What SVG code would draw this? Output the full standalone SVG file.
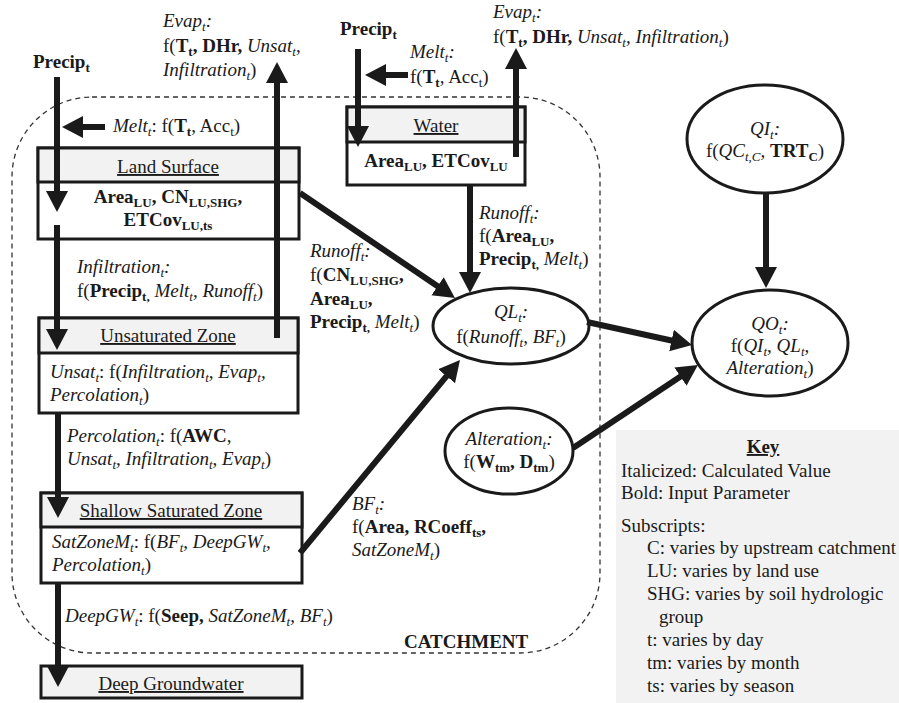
<svg xmlns="http://www.w3.org/2000/svg" width="899" height="703" viewBox="0 0 899 703">
<style>
.t{font-family:"Liberation Serif","Times New Roman",serif;font-size:19px;fill:#1a1a1a}
.c{text-anchor:middle}
.i{font-style:italic}
.b{font-weight:bold}
.u{text-decoration:underline}
.s{font-size:13px;baseline-shift:-4px}
.box{fill:#fff;stroke:#1a1a1a;stroke-width:3}
.hdr{fill:#f2f2f2;stroke:#1a1a1a;stroke-width:3}
.ell{fill:#fff;stroke:#1a1a1a;stroke-width:3}
.arr{stroke:#1a1a1a;stroke-width:6;fill:none;marker-end:url(#ah)}
</style>
<defs>
<marker id="ah" markerUnits="userSpaceOnUse" markerWidth="22" markerHeight="24" refX="1" refY="12" orient="auto" viewBox="0 0 22 24">
<path d="M0,1 L21,12 L0,23 z" fill="#1a1a1a"/>
</marker>
</defs>
<rect width="899" height="703" fill="#fff"/>

<g id="catchment">
<rect x="12" y="97" width="588" height="556" rx="80" ry="80" fill="none" stroke="#333" stroke-width="1.3" stroke-dasharray="5,4"/>
<text class="t b" x="404" y="648">CATCHMENT</text>
</g>

<g id="key">
<rect x="616" y="430" width="283" height="273" fill="#f2f2f2"/>
<text class="t b u c" x="763" y="453">Key</text>
<text class="t" x="621" y="477">Italicized: Calculated Value</text>
<text class="t" x="621" y="499">Bold: Input Parameter</text>
<text class="t" x="621" y="532">Subscripts:</text>
<text class="t" x="647" y="554">C: varies by upstream catchment</text>
<text class="t" x="647" y="577">LU: varies by land use</text>
<text class="t" x="647" y="600">SHG: varies by soil hydrologic</text>
<text class="t" x="659" y="623">group</text>
<text class="t" x="647" y="646">t: varies by day</text>
<text class="t" x="647" y="669">tm: varies by month</text>
<text class="t" x="647" y="692">ts: varies by season</text>
</g>

<g id="land-surface">
<rect class="box" x="38" y="148" width="261" height="91"/>
<rect class="hdr" x="38" y="148" width="261" height="34"/>
<text class="t c u" x="168" y="173">Land Surface</text>
<text class="t c b" x="168" y="203">Area<tspan class="s">LU</tspan>, CN<tspan class="s">LU,SHG</tspan>,</text>
<text class="t c b" x="168" y="226">ETCov<tspan class="s">LU,ts</tspan></text>
</g>

<g id="unsaturated-zone">
<rect class="box" x="39" y="318" width="259" height="95"/>
<rect class="hdr" x="39" y="318" width="259" height="35"/>
<text class="t c u" x="168" y="342">Unsaturated Zone</text>
<text class="t" x="50" y="378"><tspan class="i">Unsat<tspan class="s">t</tspan></tspan>: f(<tspan class="i">Infiltration<tspan class="s">t</tspan>, Evap<tspan class="s">t</tspan>,</tspan></text>
<text class="t i" x="50" y="401">Percolation<tspan class="s">t</tspan><tspan style="font-style:normal">)</tspan></text>
</g>

<g id="shallow-saturated-zone">
<rect class="box" x="41" y="493" width="261" height="90"/>
<rect class="hdr" x="41" y="493" width="261" height="34"/>
<text class="t c u" x="171" y="517">Shallow Saturated Zone</text>
<text class="t" x="52" y="548"><tspan class="i">SatZoneM<tspan class="s">t</tspan></tspan>: f(<tspan class="i">BF<tspan class="s">t</tspan>, DeepGW<tspan class="s">t</tspan>,</tspan></text>
<text class="t i" x="52" y="571">Percolation<tspan class="s">t</tspan><tspan style="font-style:normal">)</tspan></text>
</g>

<g id="deep-groundwater">
<rect class="hdr" x="41" y="666" width="261" height="32"/>
<text class="t c u" x="171" y="690">Deep Groundwater</text>
</g>

<g id="water">
<rect class="box" x="347" y="107" width="178" height="78"/>
<rect class="hdr" x="347" y="107" width="178" height="35"/>
<text class="t c u" x="436" y="132">Water</text>
<text class="t c b" x="436" y="167">Area<tspan class="s">LU</tspan>, ETCov<tspan class="s">LU</tspan></text>
</g>

<g id="ql">
<ellipse class="ell" cx="511" cy="326" rx="78" ry="38"/>
<text class="t c i" x="511" y="318">QL<tspan class="s">t</tspan>:</text>
<text class="t c" x="511" y="343">f(<tspan class="i">Runoff<tspan class="s">t</tspan>, BF<tspan class="s">t</tspan></tspan>)</text>
</g>

<g id="alteration">
<ellipse class="ell" cx="509" cy="451" rx="64" ry="43"/>
<text class="t c i" x="509" y="445">Alteration<tspan class="s">t</tspan>:</text>
<text class="t c" x="509" y="468">f(<tspan class="b">W<tspan class="s">tm</tspan>, D<tspan class="s">tm</tspan></tspan>)</text>
</g>

<g id="qi">
<ellipse class="ell" cx="765" cy="139" rx="78" ry="54"/>
<text class="t c i" x="765" y="135">QI<tspan class="s">t</tspan>:</text>
<text class="t c" x="765" y="157">f(<tspan class="i">QC<tspan class="s">t,C</tspan>,</tspan> <tspan class="b">TRT<tspan class="s">C</tspan></tspan>)</text>
</g>

<g id="qo">
<ellipse class="ell" cx="770" cy="343" rx="78" ry="53"/>
<text class="t c i" x="770" y="330">QO<tspan class="s">t</tspan>:</text>
<text class="t c" x="770" y="352">f(<tspan class="i">QI<tspan class="s">t</tspan>, QL<tspan class="s">t</tspan>,</tspan></text>
<text class="t c" x="770" y="374"><tspan class="i">Alteration<tspan class="s">t</tspan></tspan>)</text>
</g>

<g id="connectors">
<line class="arr" x1="57" y1="77" x2="57" y2="192"/>
<line class="arr" x1="105" y1="127" x2="82" y2="127"/>
<line class="arr" x1="57" y1="225" x2="57" y2="330"/>
<line class="arr" x1="277" y1="338" x2="277" y2="82"/>
<line class="arr" x1="58" y1="413" x2="58" y2="498"/>
<line class="arr" x1="58" y1="583" x2="58" y2="667"/>
<line class="arr" x1="358" y1="49" x2="358" y2="127"/>
<line class="arr" x1="408" y1="75" x2="385" y2="75"/>
<line class="arr" x1="516" y1="157" x2="516" y2="68"/>
<line class="arr" x1="470" y1="185" x2="470" y2="273"/>
<line class="arr" x1="300" y1="193" x2="438.4" y2="286.8"/>
<line class="arr" x1="300" y1="553" x2="447.2" y2="375.4"/>
<line class="arr" x1="587" y1="322" x2="672.5" y2="340.7"/>
<line class="arr" x1="573" y1="448" x2="681.3" y2="376.1"/>
<line class="arr" x1="766" y1="193" x2="766" y2="268"/>
</g>

<g id="labels">
<text class="t b" x="33" y="68">Precip<tspan class="s">t</tspan></text>
<text class="t" x="113" y="132"><tspan class="i">Melt<tspan class="s">t</tspan></tspan>: f(<tspan class="b">T<tspan class="s">t</tspan></tspan>, Acc<tspan class="s">t</tspan>)</text>
<text class="t i" x="163" y="27">Evap<tspan class="s">t</tspan>:</text>
<text class="t" x="163" y="52">f(<tspan class="b">T<tspan class="s">t</tspan>, DHr,</tspan> <tspan class="i">Unsat<tspan class="s">t</tspan>,</tspan></text>
<text class="t" x="163" y="76"><tspan class="i">Infiltration<tspan class="s">t</tspan></tspan>)</text>
<text class="t i" x="77" y="273">Infiltration<tspan class="s">t</tspan>:</text>
<text class="t" x="77" y="297">f(<tspan class="b">Precip<tspan class="s">t,</tspan></tspan><tspan class="i"> Melt<tspan class="s">t</tspan>,  Runoff<tspan class="s">t</tspan></tspan>)</text>
<text class="t" x="67" y="442"><tspan class="i">Percolation<tspan class="s">t</tspan></tspan>: f(<tspan class="b">AWC</tspan>,</text>
<text class="t i" x="67" y="465">Unsat<tspan class="s">t</tspan>, Infiltration<tspan class="s">t</tspan>, Evap<tspan class="s">t</tspan><tspan style="font-style:normal">)</tspan></text>
<text class="t" x="65" y="622"><tspan class="i">DeepGW<tspan class="s">t</tspan></tspan>: f(<tspan class="b">Seep,</tspan> <tspan class="i">SatZoneM<tspan class="s">t</tspan>, BF<tspan class="s">t</tspan></tspan>)</text>
<text class="t b" x="340" y="35">Precip<tspan class="s">t</tspan></text>
<text class="t i" x="410" y="58">Melt<tspan class="s">t</tspan>:</text>
<text class="t" x="410" y="83">f(<tspan class="b">T<tspan class="s">t</tspan></tspan>, Acc<tspan class="s">t</tspan>)</text>
<text class="t i" x="493" y="18">Evap<tspan class="s">t</tspan>:</text>
<text class="t" x="493" y="43">f(<tspan class="b">T<tspan class="s">t</tspan>, DHr,</tspan> <tspan class="i">Unsat<tspan class="s">t</tspan>, Infiltration<tspan class="s">t</tspan></tspan>)</text>
<text class="t i" x="479" y="219">Runoff<tspan class="s">t</tspan>:</text>
<text class="t" x="479" y="242">f(<tspan class="b">Area<tspan class="s">LU</tspan>,</tspan></text>
<text class="t" x="479" y="265"><tspan class="b">Precip<tspan class="s">t,</tspan></tspan> <tspan class="i">Melt<tspan class="s">t</tspan></tspan>)</text>
<text class="t i" x="310" y="257">Runoff<tspan class="s">t</tspan>:</text>
<text class="t" x="310" y="281">f(<tspan class="b">CN<tspan class="s">LU,SHG</tspan>,</tspan></text>
<text class="t b" x="310" y="305">Area<tspan class="s">LU</tspan>,</text>
<text class="t" x="310" y="328"><tspan class="b">Precip<tspan class="s">t,</tspan></tspan> <tspan class="i">Melt<tspan class="s">t</tspan></tspan>)</text>
<text class="t i" x="352" y="510">BF<tspan class="s">t</tspan>:</text>
<text class="t" x="352" y="533">f(<tspan class="b">Area, RCoeff<tspan class="s">ts</tspan>,</tspan></text>
<text class="t" x="352" y="556"><tspan class="i">SatZoneM<tspan class="s">t</tspan></tspan>)</text>
</g>
</svg>
